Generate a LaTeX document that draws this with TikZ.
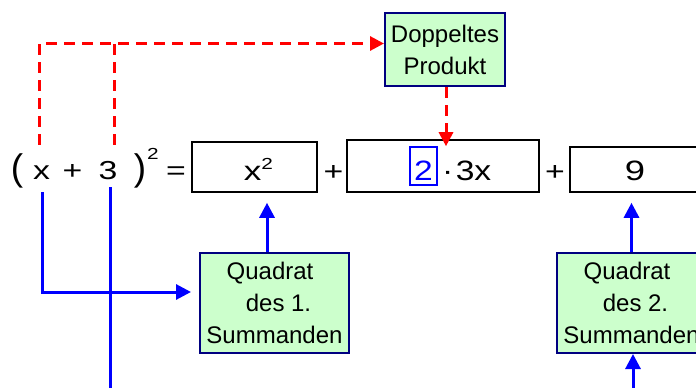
\documentclass[tikz,border=0pt]{standalone}
\usepackage{fontspec}
\usepackage{graphicx}
\setmainfont{Liberation Sans}
\usetikzlibrary{arrows.meta}
\definecolor{boxgreen}{HTML}{CCFFCC}
\definecolor{boxnavy}{HTML}{000080}
\newcommand\wideA[1]{\scalebox{1.3}[1]{#1}}
\newcommand\wideB[1]{\scalebox{1.2}[1]{#1}}
\begin{document}
\begin{tikzpicture}[x=1pt,y=-1pt,
  eq/.style={anchor=base,inner sep=0pt,font=\fontsize{26}{30}\selectfont},
  paren/.style={anchor=base,inner sep=0pt,font=\fontsize{37}{40}\selectfont},
  resbox/.style={draw=black,line width=1.6pt,inner sep=0pt,text depth=0pt},
  infobox/.style={draw=boxnavy,fill=boxgreen,line width=2pt,align=center,inner sep=0pt,font=\fontsize{24}{32}\selectfont},
  reddash/.style={red,line width=3pt,dash pattern=on 11pt off 7pt},
  redtip/.style={-{Triangle[length=14pt,width=14pt]}},
  blueline/.style={blue,line width=3pt},
  bluetip/.style={-{Triangle[length=15pt,width=15pt]}},
]
\useasboundingbox (0,0) rectangle (696,388);

% equation, left side
\node[paren] (lp) at (17,180) {(};
\node[eq,text height=34pt,text depth=13pt] (vx) at (41.5,179) {\wideA{x}};
\node[eq] (pl0) at (72.5,179) {\wideA{+}};
\node[eq,text height=34pt,text depth=8pt] (vthree) at (108,179) {\wideA{3}};
\node[paren] (rp) at (140,180) {)};
\node[eq,font=\fontsize{16}{18}\selectfont] (sq) at (153,159) {\wideA{2}};
\node[eq] (eqs) at (176,179) {\wideA{=}};

% result boxes
\node[resbox,minimum width=125pt,minimum height=50pt,text height=26pt,
      font=\fontsize{27}{30}\selectfont] (b1) at (254.5,167)
      {\kern8pt\wideA{x}\raisebox{11pt}{\fontsize{16}{18}\selectfont\wideA{2}}};
\node[eq] (pl1) at (333.5,180) {\wideA{+}};
\node[resbox,minimum width=192pt,minimum height=52pt] (b2) at (443,166) {};
\node[draw=blue,line width=1.2pt,text=blue,inner sep=0pt,minimum width=27pt,
      minimum height=38pt,text height=28pt,text depth=0pt,
      font=\fontsize{28}{30}\selectfont] (two) at (423.5,166) {\wideB{2}};
\node[anchor=base west,inner sep=0pt,font=\fontsize{28}{30}\selectfont]
      (prod) at (442,180) {\wideB{·\kern2pt 3x}};
\node[eq] (pl2) at (555,180) {\wideA{+}};
\node[resbox,minimum width=130pt,minimum height=45pt,text height=21pt,
      font=\fontsize{28}{30}\selectfont] (b9) at (635,169.5) {\wideA{9}};

% info boxes
\node[infobox,minimum width=120pt,minimum height=73pt] (dp) at (445,49.5)
      {Doppeltes\\Produkt};
\node[infobox,minimum width=149pt,minimum height=100pt] (q1) at (274.5,303)
      {Quadrat\hspace*{9pt}\\\hspace*{8pt}des 1.\\Summanden};
\node[infobox,minimum width=149pt,minimum height=100pt] (q2) at (631.5,303)
      {Quadrat\hspace*{9pt}\\\hspace*{8pt}des 2.\\Summanden};

% red dashed connectors
\coordinate (rj) at ([yshift=6pt]dp.west);
\draw[reddash,redtip] ([xshift=-2pt]vx.north) |- (rj);
\coordinate (r3) at ([xshift=6pt]vthree.north);
\draw[reddash] (r3) -- (r3 |- rj);
\coordinate (rd) at ([xshift=1pt]dp.south);
\draw[reddash,redtip,shorten >=-7pt] (rd) -- (rd |- b2.north);

% blue connectors
\coordinate (bx) at ([xshift=0.5pt]vx.south);
\coordinate (qin) at ([yshift=11pt]q1.west);
\draw[blueline,bluetip,shorten >=8pt] (bx) |- (qin);
\coordinate (b3) at ([xshift=2pt]vthree.south);
\coordinate (bot3) at (110,392);
\draw[blueline] (b3) -- (b3 |- bot3);
\coordinate (q1up) at ([xshift=-7.5pt]q1.north);
\draw[blueline,bluetip,shorten >=10pt] (q1up) -- (q1up |- b1.south);
\draw[blueline,bluetip,shorten >=10pt] (q2.north) -- (q2.north |- b9.south);
\coordinate (bot2) at (633,392);
\draw[blueline,bluetip] (bot2) -- (bot2 |- q2.south);
\end{tikzpicture}
\end{document}
